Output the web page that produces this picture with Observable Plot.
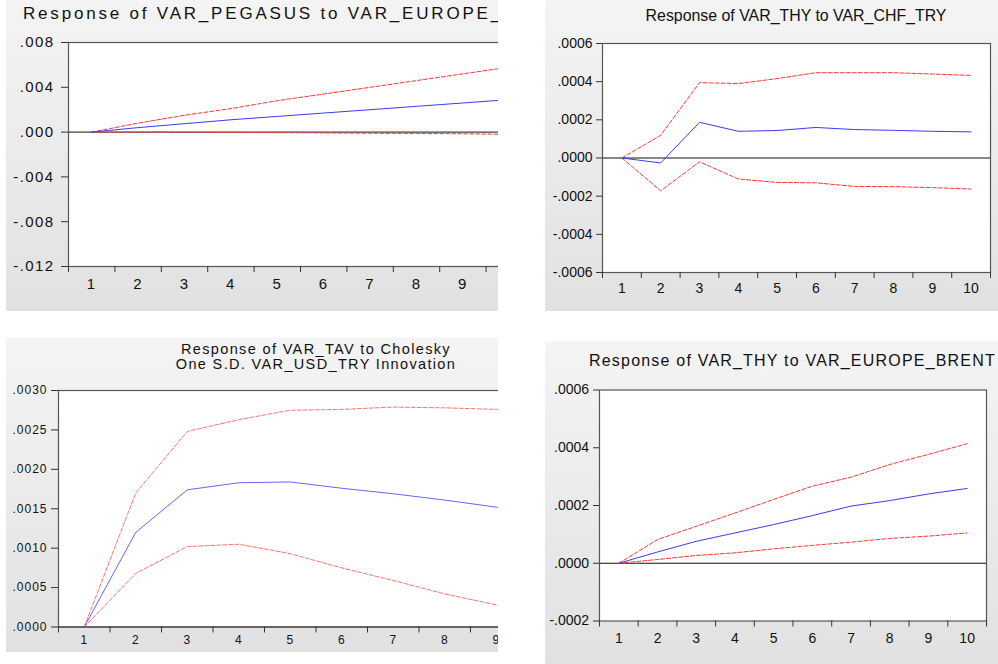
<!DOCTYPE html>
<html><head><meta charset="utf-8">
<script src="https://cdn.jsdelivr.net/npm/d3@7"></script>
<script src="https://cdn.jsdelivr.net/npm/@observablehq/plot@0.6"></script>
<style>
body{margin:0;width:998px;height:664px;background:#fff;position:relative;overflow:hidden;font-family:"Liberation Sans",Arial,sans-serif;}
.panel{position:absolute;overflow:hidden;background:linear-gradient(#f4f4f4,#e1e1e1);}
.panel svg{position:absolute;left:0;top:0;max-width:none !important;}
.title{position:absolute;white-space:nowrap;color:#111;font-family:"Liberation Sans",Arial,sans-serif;}
</style></head><body>
<script>
// Shared horizon (periods) and band edges for EViews-style tick marks
const periods = [1, 2, 3, 4, 5, 6, 7, 8, 9, 10];
const periodEdges = [0.5, 1.5, 2.5, 3.5, 4.5, 5.5, 6.5, 7.5, 8.5, 9.5, 10.5];

// Panel 1: Response of VAR_PEGASUS to VAR_EUROPE_BRENT
const p1Title = ["Response of VAR_PEGASUS to VAR_EUROPE_BRENT"];
const p1Response = [0, 0.0004, 0.00075, 0.0011, 0.0014, 0.0017, 0.002, 0.0023, 0.0026, 0.0029];
const p1Upper = [0, 0.0008, 0.0015, 0.0021, 0.0028, 0.0034, 0.004, 0.0046, 0.0052, 0.0058];
const p1Lower = [0, 0, -0.00001, -0.00003, -0.00005, -0.00007, -0.0001, -0.00012, -0.00015, -0.0002];
const p1YTicks = [-0.012, -0.008, -0.004, 0, 0.004, 0.008];

// Panel 2: Response of VAR_THY to VAR_CHF_TRY
const p2Title = ["Response of VAR_THY to VAR_CHF_TRY"];
const p2Response = [0, -0.000026, 0.000187, 0.00014, 0.000144, 0.00016, 0.000149, 0.000145, 0.00014, 0.000137];
const p2Upper = [0, 0.000119, 0.000395, 0.00039, 0.000416, 0.000447, 0.000447, 0.000447, 0.00044, 0.000433];
const p2Lower = [0, -0.000172, -0.00002, -0.00011, -0.000128, -0.00013, -0.000149, -0.00015, -0.000155, -0.000163];
const p2YTicks = [-0.0006, -0.0004, -0.0002, 0, 0.0002, 0.0004, 0.0006];

// Panel 3: Response of VAR_TAV to Cholesky One S.D. VAR_USD_TRY Innovation
const p3Title = ["Response of VAR_TAV to Cholesky", "One S.D. VAR_USD_TRY Innovation"];
const p3Response = [0, 0.0012, 0.00174, 0.00183, 0.00184, 0.00176, 0.00169, 0.00161, 0.00152, 0.00145];
const p3Upper = [0, 0.0017, 0.00248, 0.00263, 0.00275, 0.00276, 0.00279, 0.00278, 0.00276, 0.00273];
const p3Lower = [0, 0.00068, 0.00102, 0.00105, 0.00093, 0.00075, 0.00059, 0.00042, 0.00028, 0.00015];
const p3YTicks = [0, 0.0005, 0.001, 0.0015, 0.002, 0.0025, 0.003];

// Panel 4: Response of VAR_THY to VAR_EUROPE_BRENT
const p4Title = ["Response of VAR_THY to VAR_EUROPE_BRENT"];
const p4Response = [0, 0.000039, 0.000076, 0.000105, 0.000134, 0.000165, 0.000198, 0.000217, 0.00024, 0.000259];
const p4Upper = [0, 0.000082, 0.000128, 0.000174, 0.000221, 0.000267, 0.000298, 0.000342, 0.000377, 0.000414];
const p4Lower = [0, 0.000013, 0.000027, 0.000036, 0.00005, 0.000062, 0.000073, 0.000086, 0.000094, 0.000105];
const p4YTicks = [-0.0002, 0, 0.0002, 0.0004, 0.0006];

function makePanel(cfg) {
  const div = document.createElement("div");
  div.className = "panel";
  Object.assign(div.style, {left: cfg.left + "px", top: cfg.top + "px", width: cfg.w + "px", height: cfg.h + "px"});
  const rows = periods.map((p, i) => ({period: p, response: cfg.response[i], upper: cfg.upper[i], lower: cfg.lower[i]}));
  const fmt = d => (d < 0 ? "-" : "") + Math.abs(d).toFixed(cfg.decimals).replace(/^0/, "");
  const chart = Plot.plot({
    width: cfg.plotWidth,
    height: cfg.h,
    marginLeft: cfg.mL, marginRight: cfg.mR, marginTop: cfg.mT, marginBottom: cfg.h - cfg.frameBottom,
    style: `background:transparent;overflow:visible;max-width:none;color:#111;font-family:'Liberation Sans',Arial,sans-serif;font-size:${cfg.fs}px;letter-spacing:${cfg.ls}px;`,
    x: {type: "linear", domain: [0.5, 10.5]},
    y: {domain: [cfg.yTicks[0], cfg.yTicks[cfg.yTicks.length - 1]]},
    marks: [
      Plot.frame({fill: "white"}),
      Plot.ruleY([0], {stroke: "#111", strokeWidth: 1}),
      Plot.line(rows, {x: "period", y: "upper", stroke: cfg.red, strokeWidth: 1, strokeDasharray: "4,2"}),
      Plot.line(rows, {x: "period", y: "lower", stroke: cfg.red, strokeWidth: 1, strokeDasharray: "4,2"}),
      Plot.line(rows, {x: "period", y: "response", stroke: cfg.blue, strokeWidth: 1}),
      Plot.frame({stroke: "#555", strokeWidth: 1.2}),
      Plot.axisY({ticks: cfg.yTicks, tickFormat: fmt, tickSize: cfg.yTS, tickPadding: cfg.yTP, stroke: "#333", label: null}),
      Plot.axisX({ticks: periodEdges, tickFormat: () => "", tickSize: 6, stroke: "#333", label: null}),
      Plot.axisX({ticks: periods, tickFormat: d => String(d), tickSize: 0, tickPadding: cfg.xTP, label: null})
    ]
  });
  div.appendChild(chart);
  const t = document.createElement("div");
  t.className = "title";
  t.style.fontSize = cfg.tfs + "px";
  t.style.letterSpacing = cfg.tls + "px";
  t.style.lineHeight = cfg.tlh + "px";
  t.style.top = cfg.tTop + "px";
  if (cfg.tAlign === "left") {
    t.style.left = cfg.tLeft + "px";
  } else {
    t.style.left = (cfg.tCenter - 300) + "px";
    t.style.width = "600px";
    t.style.textAlign = "center";
  }
  t.innerHTML = cfg.title.join("<br>");
  div.appendChild(t);
  document.body.appendChild(div);
}

makePanel({left: 6, top: 0, w: 492, h: 311, plotWidth: 536, mL: 62, mR: 10, mT: 42, frameBottom: 266,
  response: p1Response, upper: p1Upper, lower: p1Lower, yTicks: p1YTicks, decimals: 3,
  fs: 15, ls: 1.4, yTS: 7, yTP: 7, xTP: 12, red: "#ff3535", blue: "#3a3aff",
  title: p1Title, tfs: 17, tls: 2.8, tlh: 17, tTop: 4.7, tAlign: "left", tLeft: 17});

makePanel({left: 545, top: 0, w: 453, h: 311, plotWidth: 453, mL: 57, mR: 8, mT: 43, frameBottom: 272,
  response: p2Response, upper: p2Upper, lower: p2Lower, yTicks: p2YTicks, decimals: 4,
  fs: 14, ls: 0, yTS: 6, yTP: 4, xTP: 10.5, red: "#ff3535", blue: "#3a3aff",
  title: p2Title, tfs: 15.9, tls: 0, tlh: 16, tTop: 8.2, tAlign: "center", tCenter: 251});

makePanel({left: 6, top: 338, w: 492, h: 314, plotWidth: 577, mL: 52, mR: 10, mT: 52, frameBottom: 288.5,
  response: p3Response, upper: p3Upper, lower: p3Lower, yTicks: p3YTicks, decimals: 4,
  fs: 12, ls: 1, yTS: 7, yTP: 4, xTP: 8.3, red: "#ff7070", blue: "#6565ff",
  title: p3Title, tfs: 14.5, tls: 1.35, tlh: 15.5, tTop: 3.7, tAlign: "center", tCenter: 310});

makePanel({left: 545, top: 341, w: 453, h: 323, plotWidth: 453, mL: 54, mR: 12, mT: 48.5, frameBottom: 279.5,
  response: p4Response, upper: p4Upper, lower: p4Lower, yTicks: p4YTicks, decimals: 4,
  fs: 14, ls: 0, yTS: 6, yTP: 4.4, xTP: 11.7, red: "#ff3535", blue: "#3a3aff",
  title: p4Title, tfs: 16, tls: 1.2, tlh: 16, tTop: 11.9, tAlign: "center", tCenter: 247.5});
</script>
</body></html>
